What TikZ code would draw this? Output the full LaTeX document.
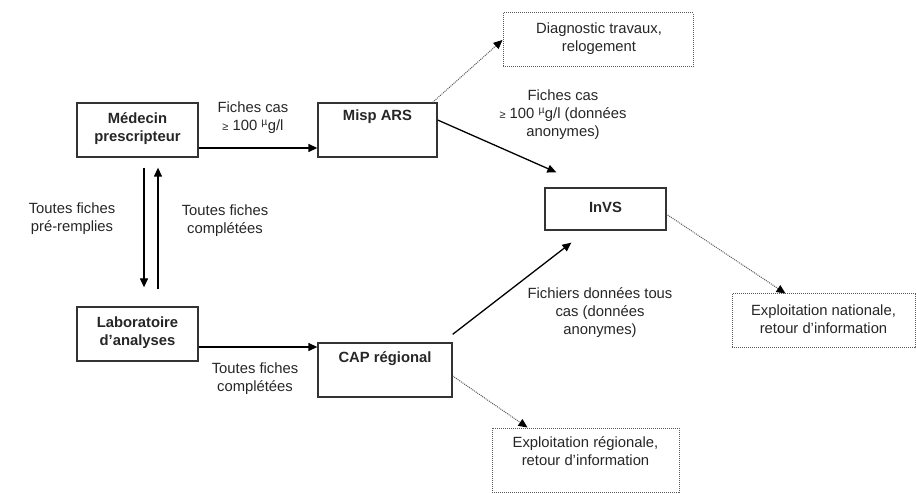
\documentclass[tikz,border=0pt]{standalone}
\usepackage{fontspec}
\setmainfont{Liberation Sans}
\usetikzlibrary{calc,arrows.meta}
\begin{document}
\begin{tikzpicture}[x=1pt,y=-1pt,
  every node/.style={font=\fontsize{14.8}{18}\selectfont, text=black!85},
  box/.style={draw=black!80, line width=1.3pt, inner sep=0pt},
  dbox/.style={draw=black!65, line width=1pt, dash pattern=on 1pt off 1pt, inner sep=0pt},
  btxt/.style={font=\bfseries\fontsize{14.8}{18}\selectfont, align=center, inner sep=0pt},
  ltxt/.style={align=center, inner sep=0pt},
  arr/.style={draw=black, line width=1.3pt, -{Triangle[length=9pt,width=8pt]}},
  darr/.style={draw=black!65, line width=1pt, dash pattern=on 1pt off 1pt, -{Triangle[length=9pt,width=8pt,fill=black,color=black,sep=0pt]}}]
\useasboundingbox (0,0) rectangle (916,494);
% boxes
\node[box, minimum width=121, minimum height=54] (med) at (137.5,130) {};
\node[btxt] at (137.5,128.5) {Médecin\\prescripteur};
\node[box, minimum width=121, minimum height=54] (lab) at (137.5,334) {};
\node[btxt] at (137.5,332.5) {Laboratoire\\d’analyses};
\node[box, minimum width=119, minimum height=54] (misp) at (377.5,130) {};
\node[btxt] at (377.5,117) {Misp ARS};
\node[box, minimum width=134, minimum height=54] (cap) at (385,370) {};
\node[btxt] at (385,359) {CAP régional};
\node[box, minimum width=121, minimum height=42] (invs) at (605.5,209) {};
\node[btxt] at (605.5,207) {InVS};
\node[dbox, minimum width=190, minimum height=54] (diag) at (598,40) {};
\node[ltxt] at (599,39) {Diagnostic travaux,\\relogement};
\node[dbox, minimum width=183, minimum height=54] (enat) at (823.5,321) {};
\node[ltxt] at (823.5,319.5) {Exploitation nationale,\\retour d’information};
\node[dbox, minimum width=187, minimum height=64] (ereg) at (585.5,460) {};
\node[ltxt] at (585.5,451.5) {Exploitation régionale,\\retour d’information};
% labels
\node[ltxt] at (253,118) {Fiches cas\\{\fontsize{11}{18}\selectfont ≥} 100 \textsuperscript{µ}g/l};
\node[ltxt] at (72,219) {Toutes fiches\\pré-remplies};
\node[ltxt] at (225,221) {Toutes fiches\\complétées};
\node[ltxt] at (255,378.5) {Toutes fiches\\complétées};
\node[ltxt] at (563,115) {Fiches cas\\{\fontsize{11}{18}\selectfont ≥} 100 \textsuperscript{µ}g/l (données\\anonymes)};
\node[ltxt] at (600,313) {Fichiers données tous\\cas (données\\anonymes)};
% connectors
\draw[arr] ($(med.east)+(0,18)$) -- ($(misp.west)+(0,18)$);
\draw[arr] ($(med.south)+(6.5,10)$) -- ($(lab.north)+(6.5,-19)$);
\draw[arr] ($(lab.north)+(20.5,-17)$) -- ($(med.south)+(20.5,10)$);
\draw[arr] ($(lab.east)+(0,13)$) coordinate (p) -- (p -| cap.west);
\draw[arr] ($(misp.east)+(0,-10)$) -- ($(invs.north west)+(12,-15)$);
\draw[arr] ($(cap.north east)+(0,-8)$) -- ($(invs.south west)+(27,12)$);
\draw[darr] ($(misp.north east)+(-5,0)$) -- (diag.west);
\draw[darr] ($(invs.east)+(1,6)$) -- ($(enat.north)+(-38,0)$);
\draw[darr] ($(cap.east)+(0,6)$) -- ($(ereg.north west)+(36,0)$);
\end{tikzpicture}
\end{document}
